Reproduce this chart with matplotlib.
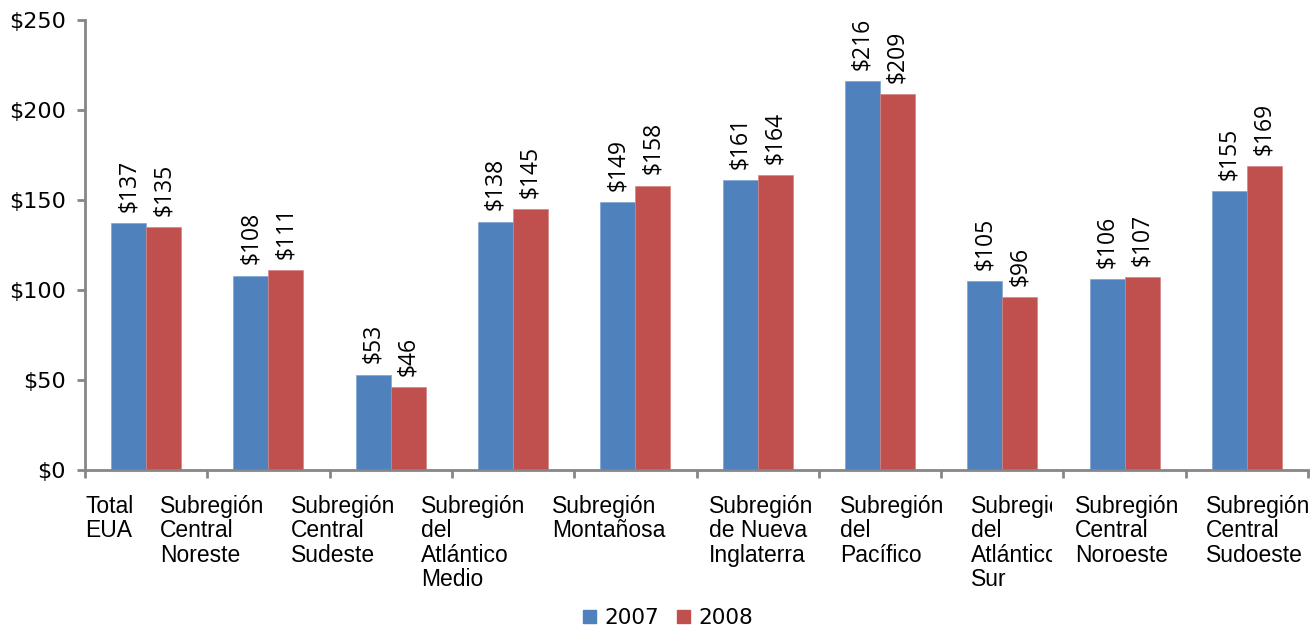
import matplotlib
matplotlib.use("Agg")
import matplotlib.pyplot as plt
import matplotlib.transforms as mtransforms
from matplotlib.patches import Patch
import numpy as np

# categories and values
categories = ["Total\nEUA",
              "Subregión\nCentral\nNoreste",
              "Subregión\nCentral\nSudeste",
              "Subregión\ndel\nAtlántico\nMedio",
              "Subregión\nMontañosa",
              "Subregión\nde Nueva\nInglaterra",
              "Subregión\ndel\nPacífico",
              "Subregión\ndel\nAtlántico\nSur",
              "Subregión\nCentral\nNoroeste",
              "Subregión\nCentral\nSudoeste"]
vals_2007 = [137, 108, 53, 138, 149, 161, 216, 105, 106, 155]
vals_2008 = [135, 111, 46, 145, 158, 164, 209, 96, 107, 169]
years = ["2007", "2008"]
yticks = [0, 50, 100, 150, 200, 250]

# label left edges relative to group centre (excel shifts them around)
label_shift = [-0.50, -0.887, -0.816, -0.753, -0.682, -0.398, -0.327, -0.256, -0.405, -0.334]

blue = "#4F81BD"
red = "#C0504D"
grey = "#868686"

fig = plt.figure(figsize=(13.12, 6.28), dpi=100)
ax = fig.add_axes([85/1312, 158/628, 1223/1312, 450/628])

x = np.arange(len(categories))
w = 0.286
b1 = ax.bar(x - w/2, vals_2007, w, color=blue, edgecolor="#7FA3D0", linewidth=0.5, label=years[0])
b2 = ax.bar(x + w/2, vals_2008, w, color=red, edgecolor="#D48583", linewidth=0.5, label=years[1])

for bars, vals in [(b1, vals_2007), (b2, vals_2008)]:
    for r, v in zip(bars, vals):
        ax.annotate("$" + str(v), (r.get_x() + r.get_width()/2, v),
                    xytext=(0, 8), textcoords="offset points",
                    rotation=90, ha="center", va="bottom",
                    fontsize=16.5, family="Open Sans", color="black")

ax.set_xlim(-0.5, len(categories) - 0.5)
ax.set_ylim(0, 250)
ax.set_yticks(yticks)
ax.set_yticklabels(["$" + str(t) for t in yticks], family="DejaVu Sans", fontsize=16)

# x ticks between categories, no tick labels (labels drawn as text)
ax.set_xticks(np.arange(-0.5, len(categories), 1.0))
ax.set_xticklabels([])

for s in ["top", "right"]:
    ax.spines[s].set_visible(False)
for s in ["left", "bottom"]:
    ax.spines[s].set_color(grey)
    ax.spines[s].set_linewidth(2)
ax.tick_params(axis="both", color=grey, width=2, length=6, direction="out")
ax.tick_params(axis="y", pad=8)

trans = mtransforms.blended_transform_factory(ax.transData, ax.transAxes)
for i, lab in enumerate(categories):
    t = ax.text(i + label_shift[i], -0.055, lab, transform=trans,
                ha="left", va="top", fontsize=16.5, family="Liberation Sans",
                linespacing=1.08, clip_on=False)
    if i == 7:
        # cut off by the next label in the original
        t.set_clip_box(mtransforms.Bbox.from_extents(0, 0, 1052, 628))
        t.set_clip_on(True)

handles = [Patch(color=blue, label=years[0]), Patch(color=red, label=years[1])]
fig.legend(handles=handles, loc="center", bbox_to_anchor=(668/1312, 1 - 618/628),
           ncol=2, frameon=False, prop={"family": "DejaVu Sans", "size": 15.5},
           handlelength=0.6, handleheight=0.6, handletextpad=0.4, columnspacing=0.8)

fig.savefig("out.png", dpi=100)
